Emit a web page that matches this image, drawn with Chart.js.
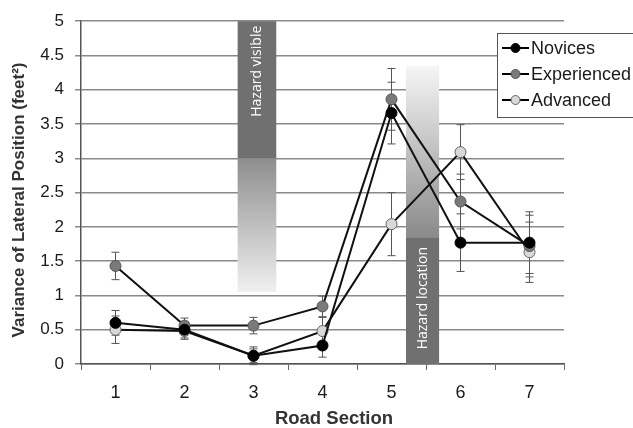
<!DOCTYPE html>
<html>
<head>
<meta charset="utf-8">
<script src="https://cdn.jsdelivr.net/npm/chart.js@4.4.1/dist/chart.umd.min.js"></script>
<style>
    html, body { margin: 0; padding: 0; background: #fff; }
    #wrap { width: 633px; height: 428px; }
</style>
</head>
<body>
<div id="wrap"><canvas id="lateralChart" width="633" height="428"></canvas></div>
<script>
// road sections on the x axis
const sections = ['1', '2', '3', '4', '5', '6', '7'];

// mean variance of lateral position (feet^2)
const novices     = [0.60, 0.50, 0.12, 0.27, 3.66, 1.77, 1.77];
const experienced = [1.43, 0.56, 0.56, 0.84, 3.86, 2.37, 1.72];
const advanced    = [0.50, 0.48, 0.12, 0.48, 2.04, 3.09, 1.63];

// error bars (+/-)
const novicesErr     = [0.18, 0.12, 0.10, 0.17, 0.45, 0.42, 0.45];
const experiencedErr = [0.20, 0.11, 0.12, 0.15, 0.45, 0.40, 0.45];
const advancedErr    = [0.20, 0.12, 0.13, 0.20, 0.46, 0.40, 0.44];

// hazard zones, in road section units
const hazardLabels = ['Hazard visible', 'Hazard location'];
const hazardFrom   = [2.77, 5.21];
const hazardTo     = [3.33, 5.69];

const FONT = '"Liberation Sans", Arial, sans-serif';

(function () {

    var errors = [novicesErr, experiencedErr, advancedErr];

    // shaded columns behind the lines
    var hazardPlugin = {
        id: 'hazards',
        beforeDatasetsDraw: function (chart) {
            var ctx = chart.ctx, x = chart.scales.x, y = chart.scales.y;
            // how each column is shaded: solid part, fading part, where the text sits
            var shading = [
                { solid: [5, 3], fade: [3, 1.05], fadeFrom: '#8e8e8e', fadeTo: '#f0f0f0', textAt: 4.27 },
                { solid: [0, 1.85], fade: [1.85, 4.35], fadeFrom: '#8a8a8a', fadeTo: '#f6f6f6', textAt: 0.96 }
            ];
            hazardLabels.forEach(function (label, i) {
                var s = shading[i];
                var left = x.getPixelForValue(hazardFrom[i] - 1);
                var right = x.getPixelForValue(hazardTo[i] - 1);
                var w = right - left;
                ctx.save();
                var ya = y.getPixelForValue(s.solid[0]), yb = y.getPixelForValue(s.solid[1]);
                ctx.fillStyle = '#707070';
                ctx.fillRect(left, Math.min(ya, yb), w, Math.abs(yb - ya));
                var fa = y.getPixelForValue(s.fade[0]), fb = y.getPixelForValue(s.fade[1]);
                var grad = ctx.createLinearGradient(0, fa, 0, fb);
                grad.addColorStop(0, s.fadeFrom);
                grad.addColorStop(1, s.fadeTo);
                ctx.fillStyle = grad;
                ctx.fillRect(left, Math.min(fa, fb), w, Math.abs(fb - fa));

                ctx.translate((left + right) / 2, y.getPixelForValue(s.textAt));
                ctx.rotate(-Math.PI / 2);
                ctx.fillStyle = '#ffffff';
                ctx.font = '14px "Open Sans", sans-serif';
                ctx.textAlign = 'center';
                ctx.textBaseline = 'middle';
                ctx.fillText(label, 0, 0);
                ctx.restore();
            });

            // error bars, under the points
            chart.data.datasets.forEach(function (ds, d) {
                ctx.save();
                ctx.strokeStyle = '#555';
                ctx.lineWidth = 1;
                ds.data.forEach(function (v, i) {
                    var px = x.getPixelForValue(i);
                    var top = y.getPixelForValue(v + errors[d][i]);
                    var bot = y.getPixelForValue(v - errors[d][i]);
                    ctx.beginPath();
                    ctx.moveTo(px, top); ctx.lineTo(px, bot);
                    ctx.moveTo(px - 4, top); ctx.lineTo(px + 4, top);
                    ctx.moveTo(px - 4, bot); ctx.lineTo(px + 4, bot);
                    ctx.stroke();
                });
                ctx.restore();
            });
        }
    };

    // axis titles (drawn by hand, the x one sits right of centre in the original)
    var titlesPlugin = {
        id: 'axisTitles',
        afterDraw: function (chart) {
            var ctx = chart.ctx;
            ctx.save();
            ctx.fillStyle = '#333';
            ctx.textAlign = 'center';
            ctx.textBaseline = 'middle';
            ctx.font = 'bold 18.5px ' + FONT;
            ctx.fillText('Road Section', 334, 419);
            ctx.translate(19, 200);
            ctx.rotate(-Math.PI / 2);
            ctx.font = 'bold 17px ' + FONT;
            ctx.fillText('Variance of Lateral Position (feet²)', 0, 0);
            ctx.restore();
        }
    };

    // boxed legend in the top right corner
    var legendPlugin = {
        id: 'boxLegend',
        afterDraw: function (chart) {
            var ctx = chart.ctx;
            ctx.save();
            ctx.fillStyle = '#fff';
            ctx.fillRect(497, 33, 150, 84);
            ctx.strokeStyle = '#555';
            ctx.lineWidth = 1;
            ctx.strokeRect(497.5, 33.5, 150, 84);
            chart.data.datasets.forEach(function (ds, i) {
                var ly = 48 + i * 26;
                ctx.strokeStyle = '#000';
                ctx.lineWidth = 2;
                ctx.beginPath();
                ctx.moveTo(502, ly); ctx.lineTo(529, ly);
                ctx.stroke();
                ctx.beginPath();
                ctx.arc(515.5, ly, 4.5, 0, Math.PI * 2);
                ctx.fillStyle = ds.pointBackgroundColor;
                ctx.fill();
                ctx.lineWidth = 1;
                ctx.strokeStyle = ds.pointBorderColor;
                ctx.stroke();
                ctx.fillStyle = '#1a1a1a';
                ctx.font = '18px ' + FONT;
                ctx.textBaseline = 'middle';
                ctx.fillText(ds.label, 531, ly + 1);
            });
            ctx.restore();
        }
    };

    function serie(label, data, fill, border) {
        return {
            label: label,
            data: data,
            borderColor: '#111',
            borderWidth: 2,
            pointRadius: 5.5,
            pointHoverRadius: 5.5,
            pointBackgroundColor: fill,
            pointBorderColor: border,
            pointBorderWidth: 1,
            tension: 0,
            fill: false
        };
    }

    var ctx = document.getElementById('lateralChart').getContext('2d');
    new Chart(ctx, {
        type: 'line',
        data: {
            labels: sections,
            datasets: [
                serie('Novices', novices, '#000000', '#000000'),
                serie('Experienced', experienced, '#7a7a7a', '#555555'),
                serie('Advanced', advanced, '#d8d8d8', '#666666')
            ]
        },
        options: {
            responsive: false,
            devicePixelRatio: 1,
            animation: false,
            layout: { padding: { top: 20, right: 69, left: 0, bottom: 0 } },
            plugins: {
                legend: { display: false },
                tooltip: { enabled: false }
            },
            scales: {
                x: {
                    offset: true,
                    grid: { display: true, drawOnChartArea: false, drawTicks: true, tickLength: 6, color: '#666', offset: true },
                    border: { display: true, color: '#555', width: 1.5 },
                    ticks: { color: '#1a1a1a', font: { family: FONT, size: 18 }, padding: 12, maxRotation: 0 },
                    afterFit: function (scale) { scale.height = 64; }
                },
                y: {
                    min: 0,
                    max: 5,
                    grid: { color: '#8a8a8a', lineWidth: 1.5, tickLength: 6, drawTicks: true },
                    border: { display: true, color: '#555', width: 1.5 },
                    ticks: {
                        stepSize: 0.5,
                        color: '#1a1a1a',
                        font: { family: FONT, size: 17 },
                        padding: 11,
                        callback: function (v) { return String(Math.round(v * 10) / 10); }
                    },
                    afterFit: function (scale) { scale.width = 81; }
                }
            }
        },
        plugins: [hazardPlugin, titlesPlugin, legendPlugin]
    });

})();
</script>
</body>
</html>
